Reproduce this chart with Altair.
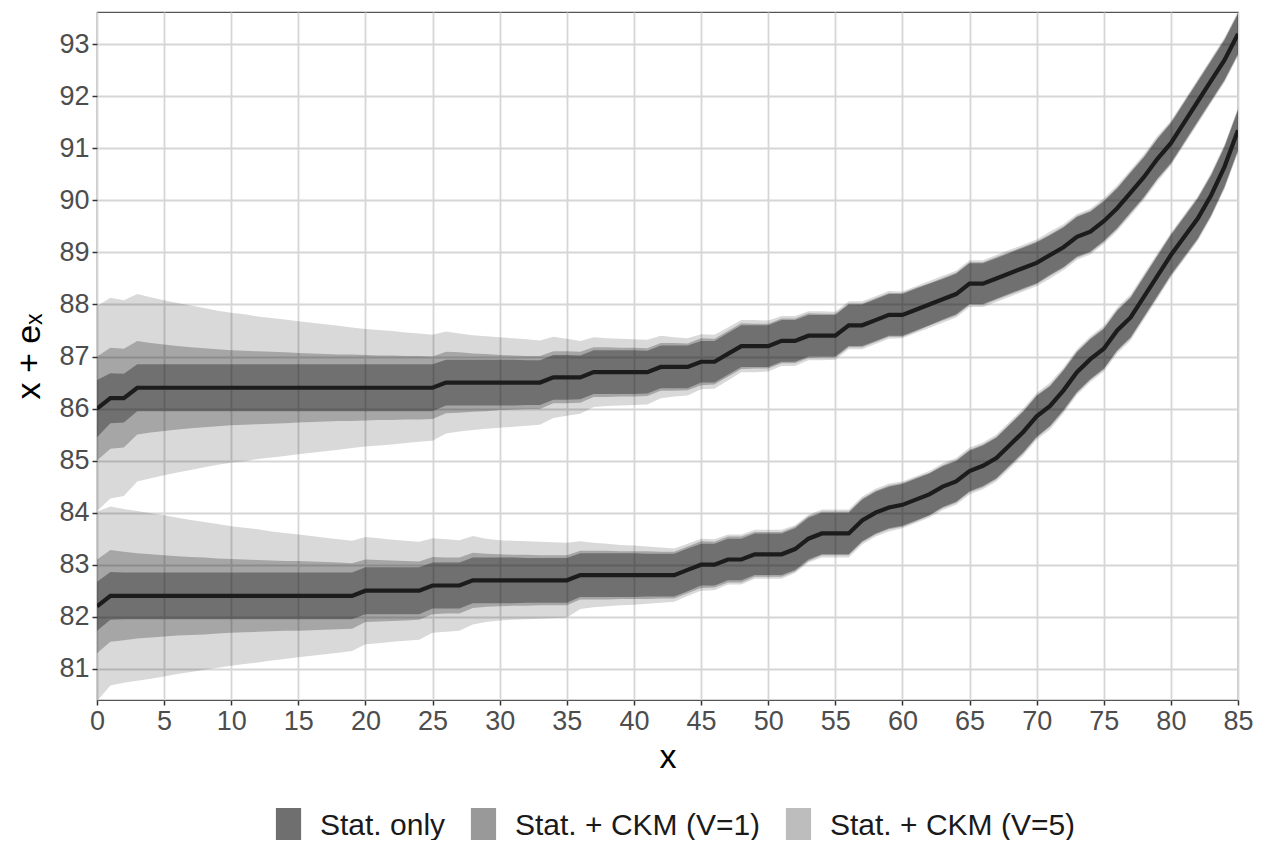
import altair as alt
import pandas as pd

# ages 0..85
ages = list(range(0, 86))

# central estimates (upper curve and lower curve)
upper_mid = [
    86.0, 86.2, 86.2, 86.4, 86.4, 86.4, 86.4, 86.4, 86.4, 86.4,
    86.4, 86.4, 86.4, 86.4, 86.4, 86.4, 86.4, 86.4, 86.4, 86.4,
    86.4, 86.4, 86.4, 86.4, 86.4, 86.4, 86.5, 86.5, 86.5, 86.5,
    86.5, 86.5, 86.5, 86.5, 86.6, 86.6, 86.6, 86.7, 86.7, 86.7,
    86.7, 86.7, 86.8, 86.8, 86.8, 86.9, 86.9, 87.05, 87.2, 87.2,
    87.2, 87.3, 87.3, 87.4, 87.4, 87.4, 87.6, 87.6, 87.7, 87.8,
    87.8, 87.9, 88.0, 88.1, 88.2, 88.4, 88.4, 88.5, 88.6, 88.7,
    88.8, 88.95, 89.1, 89.3, 89.4, 89.6, 89.85, 90.15, 90.45, 90.8,
    91.1, 91.5, 91.9, 92.3, 92.7, 93.2,
]
lower_mid = [
    82.2, 82.4, 82.4, 82.4, 82.4, 82.4, 82.4, 82.4, 82.4, 82.4,
    82.4, 82.4, 82.4, 82.4, 82.4, 82.4, 82.4, 82.4, 82.4, 82.4,
    82.5, 82.5, 82.5, 82.5, 82.5, 82.6, 82.6, 82.6, 82.7, 82.7,
    82.7, 82.7, 82.7, 82.7, 82.7, 82.7, 82.8, 82.8, 82.8, 82.8,
    82.8, 82.8, 82.8, 82.8, 82.9, 83.0, 83.0, 83.1, 83.1, 83.2,
    83.2, 83.2, 83.3, 83.5, 83.6, 83.6, 83.6, 83.85, 84.0, 84.1,
    84.15, 84.25, 84.35, 84.5, 84.6, 84.8, 84.9, 85.05, 85.3, 85.55,
    85.85, 86.05, 86.35, 86.7, 86.95, 87.15, 87.5, 87.75, 88.15, 88.55,
    88.95, 89.3, 89.65, 90.1, 90.65, 91.35,
]

# half-widths of the bands, upper curve
upper_stat = [
    0.55, 0.48, 0.47, 0.45, 0.45, 0.45, 0.45, 0.45, 0.45, 0.45,
    0.45, 0.45, 0.45, 0.45, 0.45, 0.45, 0.45, 0.45, 0.45, 0.45,
    0.45, 0.45, 0.45, 0.45, 0.45, 0.45, 0.44, 0.44, 0.44, 0.44,
    0.44, 0.44, 0.43, 0.43, 0.43, 0.43, 0.42, 0.42, 0.42, 0.42,
    0.42, 0.41, 0.41, 0.41, 0.41, 0.40, 0.40, 0.40, 0.40, 0.40,
    0.40, 0.40, 0.40, 0.40, 0.40, 0.40, 0.40, 0.40, 0.40, 0.40,
    0.40, 0.40, 0.40, 0.39, 0.39, 0.39, 0.39, 0.39, 0.39, 0.39,
    0.39, 0.38, 0.38, 0.38, 0.38, 0.38, 0.38, 0.38, 0.38, 0.38,
    0.38, 0.38, 0.38, 0.38, 0.38, 0.38,
]
upper_v1 = [
    1.00, 0.97, 0.95, 0.90, 0.86, 0.83, 0.80, 0.78, 0.76, 0.74,
    0.72, 0.71, 0.70, 0.69, 0.68, 0.67, 0.66, 0.65, 0.64, 0.64,
    0.63, 0.62, 0.62, 0.61, 0.61, 0.60, 0.59, 0.58, 0.56, 0.55,
    0.53, 0.52, 0.51, 0.51, 0.50, 0.50, 0.49, 0.48, 0.48, 0.47,
    0.47, 0.46, 0.46, 0.46, 0.45, 0.45, 0.44, 0.44, 0.44, 0.43,
    0.43, 0.43, 0.43, 0.43, 0.42, 0.42, 0.42, 0.42, 0.42, 0.42,
    0.42, 0.42, 0.41, 0.41, 0.41, 0.41, 0.41, 0.41, 0.41, 0.41,
    0.41, 0.40, 0.40, 0.40, 0.40, 0.40, 0.40, 0.40, 0.40, 0.40,
    0.40, 0.40, 0.40, 0.40, 0.40, 0.40,
]
upper_v5 = [
    1.97, 1.93, 1.88, 1.80, 1.74, 1.68, 1.63, 1.58, 1.53, 1.48,
    1.44, 1.41, 1.37, 1.34, 1.31, 1.28, 1.25, 1.22, 1.19, 1.16,
    1.13, 1.11, 1.09, 1.06, 1.04, 1.02, 0.98, 0.94, 0.91, 0.89,
    0.87, 0.85, 0.83, 0.81, 0.78, 0.74, 0.70, 0.67, 0.65, 0.64,
    0.63, 0.62, 0.60, 0.57, 0.55, 0.53, 0.52, 0.51, 0.50, 0.50,
    0.49, 0.48, 0.48, 0.47, 0.47, 0.46, 0.46, 0.46, 0.46, 0.46,
    0.45, 0.45, 0.45, 0.45, 0.45, 0.45, 0.45, 0.45, 0.45, 0.45,
    0.45, 0.45, 0.44, 0.44, 0.44, 0.44, 0.44, 0.44, 0.44, 0.44,
    0.43, 0.43, 0.43, 0.43, 0.43, 0.43,
]

# half-widths of the bands, lower curve
lower_stat = [
    0.47, 0.46, 0.45, 0.45, 0.45, 0.45, 0.45, 0.45, 0.45, 0.45,
    0.45, 0.45, 0.45, 0.45, 0.45, 0.45, 0.45, 0.45, 0.45, 0.45,
    0.45, 0.45, 0.45, 0.45, 0.45, 0.44, 0.44, 0.44, 0.44, 0.44,
    0.44, 0.44, 0.43, 0.43, 0.43, 0.43, 0.42, 0.42, 0.42, 0.42,
    0.42, 0.41, 0.41, 0.41, 0.41, 0.40, 0.40, 0.40, 0.40, 0.40,
    0.40, 0.40, 0.40, 0.40, 0.40, 0.40, 0.40, 0.40, 0.40, 0.40,
    0.40, 0.40, 0.40, 0.39, 0.39, 0.39, 0.39, 0.39, 0.39, 0.39,
    0.39, 0.38, 0.38, 0.38, 0.38, 0.38, 0.38, 0.38, 0.38, 0.38,
    0.38, 0.38, 0.38, 0.38, 0.38, 0.38,
]
lower_v1 = [
    0.90, 0.88, 0.85, 0.82, 0.80, 0.78, 0.76, 0.75, 0.74, 0.72,
    0.71, 0.70, 0.69, 0.68, 0.67, 0.67, 0.66, 0.65, 0.64, 0.63,
    0.60, 0.59, 0.58, 0.57, 0.56, 0.55, 0.54, 0.54, 0.53, 0.51,
    0.50, 0.49, 0.49, 0.48, 0.48, 0.48, 0.47, 0.47, 0.47, 0.46,
    0.46, 0.46, 0.45, 0.45, 0.45, 0.45, 0.44, 0.44, 0.44, 0.43,
    0.43, 0.43, 0.43, 0.43, 0.42, 0.42, 0.42, 0.42, 0.42, 0.42,
    0.42, 0.42, 0.41, 0.41, 0.41, 0.41, 0.41, 0.41, 0.41, 0.41,
    0.41, 0.40, 0.40, 0.40, 0.40, 0.40, 0.40, 0.40, 0.40, 0.40,
    0.40, 0.40, 0.40, 0.40, 0.40, 0.40,
]
lower_v5 = [
    1.82, 1.72, 1.67, 1.63, 1.59, 1.55, 1.50, 1.46, 1.42, 1.38,
    1.34, 1.31, 1.28, 1.24, 1.21, 1.18, 1.15, 1.12, 1.09, 1.06,
    1.03, 1.01, 0.98, 0.96, 0.94, 0.91, 0.89, 0.87, 0.85, 0.80,
    0.77, 0.76, 0.75, 0.74, 0.73, 0.72, 0.65, 0.62, 0.60, 0.58,
    0.57, 0.55, 0.53, 0.51, 0.50, 0.50, 0.49, 0.48, 0.48, 0.47,
    0.47, 0.47, 0.46, 0.46, 0.46, 0.46, 0.46, 0.46, 0.46, 0.46,
    0.45, 0.45, 0.45, 0.45, 0.45, 0.45, 0.45, 0.45, 0.45, 0.45,
    0.45, 0.45, 0.44, 0.44, 0.44, 0.44, 0.44, 0.44, 0.44, 0.44,
    0.43, 0.43, 0.43, 0.43, 0.43, 0.43,
]

band_labels = ["Stat. only", "Stat. + CKM (V=1)", "Stat. + CKM (V=5)"]
legend_colors = ["#6f6f6f", "#999999", "#bdbdbd"]
x_ticks = [0, 5, 10, 15, 20, 25, 30, 35, 40, 45, 50, 55, 60, 65, 70, 75, 80, 85]
y_ticks = [81, 82, 83, 84, 85, 86, 87, 88, 89, 90, 91, 92, 93]

rows = []
curves = {
    "upper": (upper_mid, {"stat": upper_stat, "v1": upper_v1, "v5": upper_v5}),
    "lower": (lower_mid, {"stat": lower_stat, "v1": lower_v1, "v5": lower_v5}),
}
for name, (mid, hws) in curves.items():
    for band, hw in hws.items():
        for a, m, h in zip(ages, mid, hw):
            rows.append({"age": a, "curve": name, "band": band,
                         "mid": m, "lo": m - h, "hi": m + h})
df = pd.DataFrame(rows)
mid_df = df[df["band"] == "stat"]

FONT = "Liberation Sans"
x_enc = alt.X("age:Q",
              scale=alt.Scale(domain=[0, 85], nice=False, zero=False),
              axis=alt.Axis(values=x_ticks, title="x", labelFlush=False,
                            labelOverlap=False, format="d"))
y_scale = alt.Scale(domain=[80.4, 93.62], nice=False, zero=False)
y_axis = alt.Axis(values=y_ticks, title="x + eₓ", labelFlush=False,
                  labelOverlap=False, format="d")

layers = []
for band, op in [("v5", 0.15), ("v1", 0.23), ("stat", 0.32)]:
    layers.append(
        alt.Chart(df[df["band"] == band])
        .mark_area(fill="black", fillOpacity=op, clip=True, interpolate="linear")
        .encode(x=x_enc,
                y=alt.Y("lo:Q", scale=y_scale, axis=y_axis),
                y2="hi:Q",
                detail="curve:N")
    )

line = (
    alt.Chart(mid_df)
    .mark_line(color="#1c1c1c", strokeWidth=4.2, clip=True)
    .encode(x=x_enc, y=alt.Y("mid:Q", scale=y_scale, axis=y_axis),
            detail="curve:N")
)

legend_df = pd.DataFrame({"label": band_labels, "age": [0, 0, 0],
                          "val": [86.0, 86.0, 86.0]})
legend_layer = (
    alt.Chart(legend_df)
    .mark_square(opacity=0, size=10)
    .encode(
        x=alt.X("age:Q", scale=alt.Scale(domain=[0, 85], nice=False, zero=False)),
        y=alt.Y("val:Q", scale=y_scale),
        color=alt.Color(
            "label:N",
            scale=alt.Scale(domain=band_labels, range=legend_colors),
            legend=alt.Legend(
                title=None, orient="none", direction="horizontal",
                legendX=174, legendY=796,
                symbolType="M-0.72,-1H0.72V1H-0.72Z", symbolSize=1225,
                symbolOpacity=1, symbolStrokeWidth=0,
                labelFont=FONT, labelFontSize=30, labelColor="#1a1a1a",
                labelOffset=14, columnPadding=20, padding=0,
                labelLimit=400,
            ),
        ),
    )
)

chart = (
    alt.layer(*layers, line, legend_layer)
    .properties(width=1141, height=688,
                autosize=alt.AutoSizeParams(type="none"),
                padding={"left": 89, "top": 4, "right": 15, "bottom": 140})
    .configure_view(stroke="#555555", strokeWidth=1.2)
    .configure_axis(
        grid=True, gridColor="#d6d6d6", gridWidth=1.8,
        domain=False,
        tickColor="#333333", tickSize=5, tickWidth=1.5,
        labelFont=FONT, labelFontSize=27, labelColor="#4d4d4d", labelPadding=3,
        titleFont=FONT, titleFontSize=34, titleFontWeight="normal",
        titleColor="#000000",
    )
    .configure_axisX(titlePadding=6)
    .configure_axisY(titlePadding=12)
)

chart.save("out.html", embed_options={"renderer": "svg", "actions": False})
